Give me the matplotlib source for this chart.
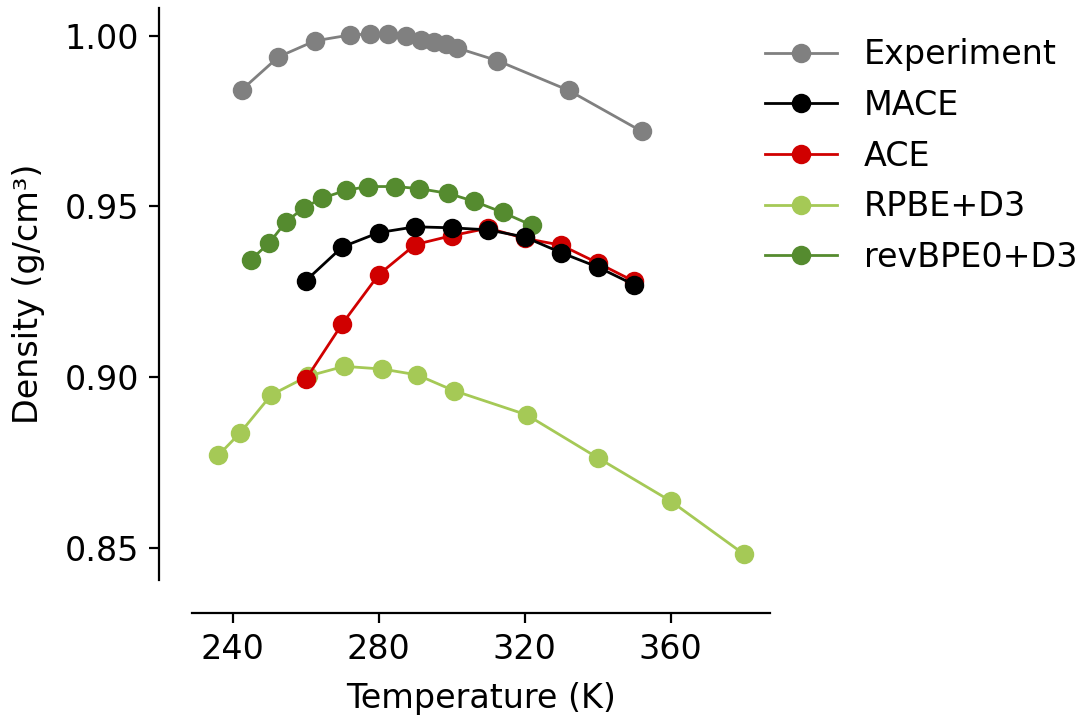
import matplotlib
matplotlib.use("Agg")
import matplotlib.pyplot as plt

# density of water vs temperature
exp_T = [242.5, 252.5, 262.5, 272.0, 277.5, 282.5, 287.5, 291.5, 295.0, 298.5, 301.5, 312.5, 332.0, 352.0]
exp_rho = [0.9842, 0.9938, 0.9985, 1.0002, 1.0005, 1.0005, 0.9999, 0.9988, 0.9982, 0.9975, 0.9964, 0.9927, 0.9840, 0.9720]

mace_T = [260, 270, 280, 290, 300, 310, 320, 330, 340, 350]
mace_rho = [0.9282, 0.9381, 0.9423, 0.9440, 0.9437, 0.9431, 0.9410, 0.9364, 0.9322, 0.9270]

ace_T = [260, 270, 280, 290, 300, 310, 320, 330, 340, 350]
ace_rho = [0.8993, 0.9156, 0.9300, 0.9388, 0.9414, 0.9436, 0.9406, 0.9386, 0.9334, 0.9280]

rpbe_T = [236, 242, 250.5, 260.5, 270.5, 281, 290.5, 300.5, 320.5, 340, 360, 380]
rpbe_rho = [0.8770, 0.8836, 0.8947, 0.9002, 0.9031, 0.9023, 0.9006, 0.8960, 0.8889, 0.8763, 0.8636, 0.8481]

rev_T = [245, 250, 254.5, 259.5, 264.5, 271, 277, 284.5, 291, 299, 306, 314, 322]
rev_rho = [0.9344, 0.9393, 0.9454, 0.9496, 0.9524, 0.9547, 0.9558, 0.9558, 0.9552, 0.9538, 0.9515, 0.9482, 0.9444]

plt.rcParams["font.size"] = 12

fig = plt.figure(figsize=(5.42, 3.585), dpi=200)
ax = fig.add_axes([0.1771, 0.1911, 0.7103 - 0.1771, 0.9888 - 0.1911])

kw = dict(marker="o", markersize=6, linewidth=1.0)
l_rpbe, = ax.plot(rpbe_T, rpbe_rho, color="#a5c956", label="RPBE+D3", zorder=2, **kw)
l_rev, = ax.plot(rev_T, rev_rho, color="#558b2f", label="revBPE0+D3", zorder=3, **kw)
l_ace, = ax.plot(ace_T, ace_rho, color="#d00000", label="ACE", zorder=4, **kw)
l_mace, = ax.plot(mace_T, mace_rho, color="black", label="MACE", zorder=5, **kw)
l_exp, = ax.plot(exp_T, exp_rho, color="#808080", label="Experiment", zorder=6, **kw)

ax.set_xticks([240, 280, 320, 360])
ax.set_yticks([0.85, 0.90, 0.95, 1.00])
ax.set_xlabel("Temperature (K)", labelpad=6)
ax.set_ylabel("Density (g/cm³)", labelpad=7)

for side in ["top", "right"]:
    ax.spines[side].set_visible(False)
ax.spines["left"].set_position(("outward", 12))
ax.spines["bottom"].set_position(("outward", 12))

fig.legend(handles=[l_exp, l_mace, l_ace, l_rpbe, l_rev], loc="upper left",
           bbox_to_anchor=(0.6937, 0.965), borderaxespad=0, frameon=False,
           labelspacing=0.53, handlelength=2.15)

fig.savefig("out.png", dpi=200)
